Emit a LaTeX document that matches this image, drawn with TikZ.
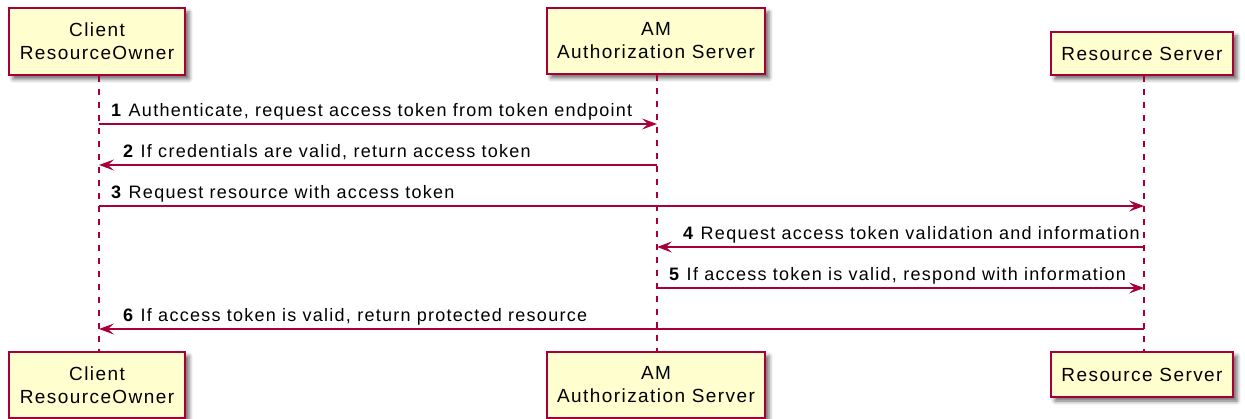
\documentclass[tikz,border=0pt]{standalone}
\usepackage{fontspec}
\setmainfont{Liberation Sans}[LetterSpace=7]
\newfontfamily\partfont{Liberation Sans}[LetterSpace=7.5]
\usetikzlibrary{arrows.meta,shadows.blur}
\definecolor{pline}{HTML}{A80036}
\definecolor{pfill}{HTML}{FEFECE}
\tikzset{
 part/.style={draw=pline, line width=2pt, fill=pfill, align=center, inner sep=0pt,
   font=\partfont\fontsize{19}{23}\selectfont,
   blur shadow={shadow xshift=4pt,shadow yshift=-4pt,shadow blur radius=4pt,shadow opacity=60}},
 life/.style={draw=pline, line width=1.3pt, dash pattern=on 6.5pt off 6.5pt},
 msg/.style={draw=pline, line width=1.4pt, -{Stealth[length=15pt,width=11pt,inset=6pt]}},
 lbl/.style={anchor=base west, inner sep=0pt, font=\fontsize{18}{20}\selectfont}
}
\begin{document}
\begin{tikzpicture}[x=1pt,y=-1pt]
\useasboundingbox (0,0) rectangle (1245,419);
\coordinate (cx) at (99,0);
\coordinate (ax) at (657,0);
\coordinate (rx) at (1144,0);
% participants top
\node[part, minimum width=176pt, minimum height=67pt] (ct) at (97,41.5) {Client\\ResourceOwner};
\node[part, minimum width=218pt, minimum height=66pt] (at) at (656,41) {AM\\Authorization Server};
\node[part, minimum width=182pt, minimum height=43pt] (rt) at (1142,53.5) {Resource Server};
% participants bottom
\node[part, minimum width=176pt, minimum height=66pt] (cb) at (97,385) {Client\\ResourceOwner};
\node[part, minimum width=218pt, minimum height=66pt] (ab) at (656,385) {AM\\Authorization Server};
\node[part, minimum width=182pt, minimum height=45pt] (rb) at (1142,374.5) {Resource Server};
% lifelines
\draw[life] (ct.south -| cx) -- (cb.north -| cx);
\draw[life] (at.south -| ax) -- (ab.north -| ax);
\draw[life] (rt.south -| rx) -- (rb.north -| rx);
% messages
\draw[msg] (cx |- 0,124) -- (ax |- 0,124);
\node[lbl] (l1) at (111,117) {\textbf{1} Authenticate, request access token from token endpoint};
\draw[msg] (ax |- 0,165) -- (cx |- 0,165);
\node[lbl] (l2) at (123,158) {\textbf{2} If credentials are valid, return access token};
\draw[msg] (cx |- 0,206) -- (rx |- 0,206);
\node[lbl] (l3) at (111,199) {\textbf{3} Request resource with access token};
\draw[msg] (rx |- 0,247) -- (ax |- 0,247);
\node[lbl] (l4) at (683,240) {\textbf{4} Request access token validation and information};
\draw[msg] (ax |- 0,288) -- (rx |- 0,288);
\node[lbl] (l5) at (669,281) {\textbf{5} If access token is valid, respond with information};
\draw[msg] (rx |- 0,329) -- (cx |- 0,329);
\node[lbl] (l6) at (123,322) {\textbf{6} If access token is valid, return protected resource};
\end{tikzpicture}
\end{document}
